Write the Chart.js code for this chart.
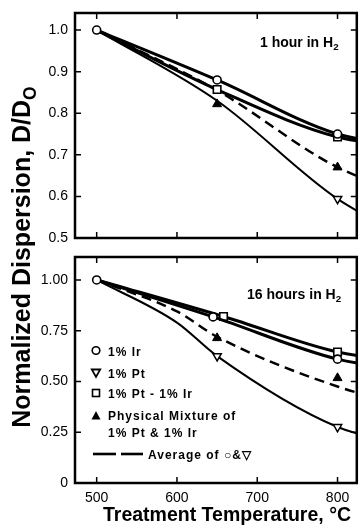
<!DOCTYPE html>
<html>
<head>
<meta charset="utf-8">
<script src="https://cdn.jsdelivr.net/npm/chart.js@4.4.0/dist/chart.umd.min.js"></script>
<style>
  html, body { margin: 0; padding: 0; background: #fff; }
  #wrap { position: relative; width: 360px; height: 529px; overflow: hidden; }
  #c1 { position: absolute; left: 0; top: 0; }
  #c2 { position: absolute; left: 0; top: 247px; }
  .t { position: absolute; white-space: nowrap; color: #000; line-height: 1; }
  .lg { font: bold 12px "Liberation Sans", Arial, sans-serif; letter-spacing: 1px; }
  .pn { font: bold 14px "Liberation Sans", Arial, sans-serif; }
  .pn sub, #ytitle sub { font-size: 70%; line-height: 0; vertical-align: -0.35em; }
  #xtitle { left: 103px; top: 503px; font: bold 19.5px "Liberation Sans", Arial, sans-serif; }
  #ytitle { left: 21px; top: 257px; transform: translate(-50%, -50%) rotate(-90deg);
            font: bold 25px "Liberation Sans", Arial, sans-serif; }
  #marks { position: absolute; left: 0; top: 0; }
</style>
</head>
<body>
<div id="wrap">
  <canvas id="c1" width="363" height="250"></canvas>
  <canvas id="c2" width="363" height="282"></canvas>

  <div class="t pn" style="left:260px; top:34px;">1 hour in H<sub>2</sub></div>
  <div class="t pn" style="left:247px; top:286px;">16 hours in H<sub>2</sub></div>

  <svg id="marks" width="360" height="529">
    <circle cx="96" cy="350.5" r="3.8" fill="#fff" stroke="#000" stroke-width="1.6"/>
    <polygon points="91.8,369.5 100.2,369.5 96,377" fill="#fff" stroke="#000" stroke-width="1.8"/>
    <rect x="92.5" y="389.5" width="7" height="7" fill="#fff" stroke="#000" stroke-width="1.6"/>
    <polygon points="91.5,419.5 100.5,419.5 96,411" fill="#000"/>
    <line x1="93" y1="454" x2="116" y2="454" stroke="#000" stroke-width="2.6"/>
    <line x1="121" y1="454" x2="143" y2="454" stroke="#000" stroke-width="2.6"/>
  </svg>
  <div class="t lg" style="left:108px; top:345px;">1% Ir</div>
  <div class="t lg" style="left:108px; top:367px;">1% Pt</div>
  <div class="t lg" style="left:108px; top:387px;">1% Pt - 1% Ir</div>
  <div class="t lg" style="left:108px; top:409px;">Physical Mixture of</div>
  <div class="t lg" style="left:108px; top:426px;">1% Pt &amp; 1% Ir</div>
  <div class="t lg" style="left:148px; top:448px;">Average of ○&amp;▽</div>

  <div class="t" id="xtitle">Treatment Temperature, °C</div>
  <div class="t" id="ytitle">Normalized Dispersion, D/D<sub>O</sub></div>
</div>

<script>
// treatment temperatures, °C
const temps = [500, 650, 800, 900];
const mixTemps = [650, 800];
const xTicks = [500, 600, 700, 800];

// 1 hour in H2
const ir1h = [1.0, 0.88, 0.75, 0.72];
const pt1h = [1.0, 0.83, 0.594, 0.49];
const ptir1h = [1.0, 0.857, 0.743, 0.72];
const mix1h = [0.822, 0.67];
const avg1h = [1.0, 0.855, 0.67, 0.60];
const yTicks1h = [0.5, 0.6, 0.7, 0.8, 0.9, 1.0];

// 16 hours in H2 (Ir and Pt-Ir markers are drawn slightly apart at 650;
// the Pt and average curves are also read at 600, where they bend)
const ir16Temps = [500, 645, 800, 900];
const ptir16Temps = [500, 658, 800, 900];
const curve16Temps = [500, 600, 650, 800, 900];
const ir16h = [1.0, 0.818, 0.61, 0.55];
const pt16h = [1.0, 0.79, 0.625, 0.276, 0.18];
const ptir16h = [1.0, 0.82, 0.645, 0.59];
const mix16h = [0.714, 0.517];
const avg16h = [1.0, 0.845, 0.72, 0.475, 0.37];
const yTicks16h = [0, 0.25, 0.5, 0.75, 1.0];

Chart.defaults.font.family = '"Liberation Sans", Arial, sans-serif';
Chart.defaults.color = '#000';

function pts(xs, ys) {
  return ys.map((y, i) => ({ x: xs[i], y: y }));
}

// box around the plot with short inward ticks
const framePlugin = {
  id: 'frame',
  afterDraw(chart) {
    const { ctx, chartArea: a, scales } = chart;
    ctx.save();
    ctx.strokeStyle = '#000';
    ctx.lineWidth = 2.5;
    ctx.strokeRect(a.left, a.top, a.right - a.left, a.bottom - a.top);
    ctx.lineWidth = 1.5;
    ctx.beginPath();
    xTicks.forEach(v => {
      const px = scales.x.getPixelForValue(v);
      ctx.moveTo(px, a.bottom); ctx.lineTo(px, a.bottom - 6);
      ctx.moveTo(px, a.top); ctx.lineTo(px, a.top + 6);
    });
    scales.y.ticks.forEach(t => {
      const py = scales.y.getPixelForValue(t.value);
      ctx.moveTo(a.left, py); ctx.lineTo(a.left + 6, py);
      ctx.moveTo(a.right, py); ctx.lineTo(a.right - 6, py);
    });
    ctx.stroke();
    ctx.restore();
  }
};

function datasets(d) {
  return [
    {
      label: 'Physical Mixture of 1% Pt & 1% Ir',
      data: pts(mixTemps, d.mix),
      showLine: false,
      pointStyle: 'triangle', pointRadius: 5.2,
      pointBackgroundColor: '#000', pointBorderColor: '#000', pointBorderWidth: 1
    },
    {
      label: '1% Ir',
      data: pts(d.irX, d.ir),
      borderColor: '#000', borderWidth: 3, cubicInterpolationMode: 'monotone',
      pointStyle: 'circle', pointRadius: [4, 4, 4, 0],
      pointBackgroundColor: '#fff', pointBorderColor: '#000', pointBorderWidth: 1.6
    },
    {
      label: '1% Pt - 1% Ir',
      data: pts(d.ptirX, d.ptir),
      borderColor: '#000', borderWidth: 3, cubicInterpolationMode: 'monotone',
      pointStyle: 'rect', pointRadius: [0, 5.3, 5.3, 0],
      pointBackgroundColor: '#fff', pointBorderColor: '#000', pointBorderWidth: 1.6
    },
    {
      label: '1% Pt',
      data: pts(d.ptX, d.pt),
      borderColor: '#000', borderWidth: 2, cubicInterpolationMode: 'monotone',
      pointStyle: 'triangle', pointRotation: 180, pointRadius: d.ptR,
      pointBackgroundColor: '#fff', pointBorderColor: '#000', pointBorderWidth: 1.5
    },
    {
      label: 'Average of 1% Ir & 1% Pt',
      data: pts(d.avgX, d.avg),
      borderColor: '#000', borderWidth: 2.5, borderDash: [10, 6],
      cubicInterpolationMode: 'monotone', pointRadius: 0
    }
  ];
}

function options(p) {
  return {
    responsive: false,
    animation: false,
    events: [],
    layout: { padding: p.padding },
    plugins: { legend: { display: false }, tooltip: { enabled: false } },
    scales: {
      x: {
        type: 'linear', min: 473, max: 824,
        display: p.showX,
        grid: { display: false, drawTicks: true, tickLength: 7 },
        border: { display: false },
        afterBuildTicks: s => { s.ticks = xTicks.map(v => ({ value: v })); },
        afterFit: s => { s.height = p.showX ? 46 : 0; },
        ticks: { padding: 0, font: { size: 14 }, maxRotation: 0 }
      },
      y: {
        type: 'linear', min: p.yMin, max: p.yMax,
        grid: { display: false, drawTicks: true, tickLength: 7 },
        border: { display: false },
        afterBuildTicks: s => { s.ticks = p.yTicks.map(v => ({ value: v })); },
        afterFit: s => { s.width = 75; },
        ticks: { padding: 0, font: { size: 14 }, callback: p.fmt }
      }
    }
  };
}

new Chart(document.getElementById('c1'), {
  type: 'line',
  data: {
    datasets: datasets({
      mix: mix1h, irX: temps, ir: ir1h, ptirX: temps, ptir: ptir1h,
      ptX: temps, pt: pt1h, ptR: [0, 0, 4.8, 0], avgX: temps, avg: avg1h
    })
  },
  options: options({
    padding: { top: 13, bottom: 12, left: 0, right: 0 },
    showX: false, yMin: 0.5, yMax: 1.041, yTicks: yTicks1h,
    fmt: v => v.toFixed(1)
  }),
  plugins: [framePlugin]
});

new Chart(document.getElementById('c2'), {
  type: 'line',
  data: {
    datasets: datasets({
      mix: mix16h, irX: ir16Temps, ir: ir16h, ptirX: ptir16Temps, ptir: ptir16h,
      ptX: curve16Temps, pt: pt16h, ptR: [0, 0, 4.8, 4.8, 0],
      avgX: curve16Temps, avg: avg16h
    })
  },
  options: options({
    padding: { top: 10, bottom: 0, left: 0, right: 0 },
    showX: true, yMin: 0, yMax: 1.113, yTicks: yTicks16h,
    fmt: v => (v === 0 ? '0' : v.toFixed(2))
  }),
  plugins: [framePlugin]
});
</script>
</body>
</html>
